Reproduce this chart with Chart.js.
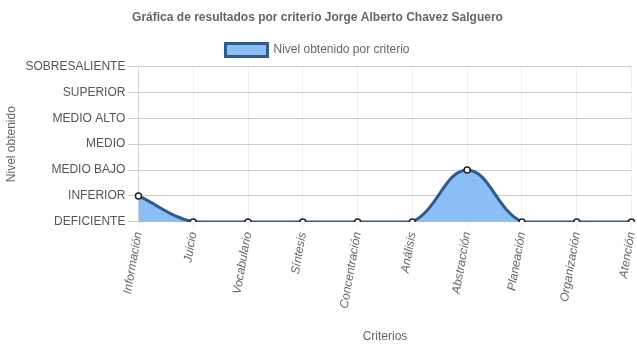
<!DOCTYPE html>
<html>
<head>
<meta charset="utf-8">
<script src="https://cdn.jsdelivr.net/npm/chart.js@4/dist/chart.umd.min.js"></script>
<style>
  html, body { margin: 0; padding: 0; background: #fff; }
  #wrap { width: 637px; height: 348px; }
</style>
</head>
<body>
<div id="wrap"><canvas id="lineChart" width="637" height="348"></canvas></div>
<script>
const criterios = ['Información', 'Juicio', 'Vocabulario', 'Síntesis', 'Concentración',
    'Análisis', 'Abstracción', 'Planeación', 'Organización', 'Atención'];
const niveles = ['DEFICIENTE', 'INFERIOR', 'MEDIO BAJO', 'MEDIO', 'MEDIO ALTO', 'SUPERIOR', 'SOBRESALIENTE'];
const nivelObtenido = [1, 0, 0, 0, 0, 0, 2, 0, 0, 0];

Chart.defaults.font.family = '"Liberation Sans", Arial, sans-serif';
Chart.defaults.color = '#666';

// Line Plot
const lineChart = new Chart(
    document.getElementById('lineChart').getContext('2d'), {
    type: 'line',
    data: {
        labels: criterios,
        datasets: [{
            label: 'Nivel obtenido por criterio',
            backgroundColor: 'rgba(138, 190, 245, 1)',
            borderColor: '#2d5b8e',
            borderWidth: 3,
            fill: true,
            tension: 0.4,
            pointRadius: 3,
            pointBorderWidth: 1.5,
            pointBackgroundColor: '#fff',
            pointBorderColor: '#222',
            data: nivelObtenido
        }]
    },
    options: {
        responsive: false,
        animation: false,
        layout: { padding: { right: 2, left: 0, top: 0, bottom: 0 } },
        plugins: {
            title: {
                display: true,
                text: 'Gráfica de resultados por criterio Jorge Alberto Chavez Salguero',
                font: { size: 12, weight: 'bold' },
                padding: { top: 10, bottom: 12 }
            },
            legend: {
                labels: {
                    boxWidth: 42,
                    boxHeight: 13,
                    padding: 7,
                    font: { size: 12 }
                }
            },
            tooltip: { enabled: false }
        },
        scales: {
            x: {
                title: { display: true, text: 'Criterios', font: { size: 12 }, padding: { top: 17 } },
                grid: { color: 'rgba(0,0,0,0.06)', tickLength: 6 },
                ticks: {
                    minRotation: 80,
                    maxRotation: 80,
                    font: { size: 12, style: 'italic' }
                },
                // let the last label run to the edge like the original
                afterFit: s => { s.paddingRight = 0; }
            },
            y: {
                min: 0,
                max: 6,
                title: { display: true, text: 'Nivel obtenido', font: { size: 12 } },
                grid: { color: 'rgba(0,0,0,0.2)', tickLength: 10 },
                ticks: {
                    stepSize: 1,
                    font: { size: 12 },
                    color: '#555',
                    callback: v => niveles[v]
                }
            }
        }
    }
});
</script>
</body>
</html>
